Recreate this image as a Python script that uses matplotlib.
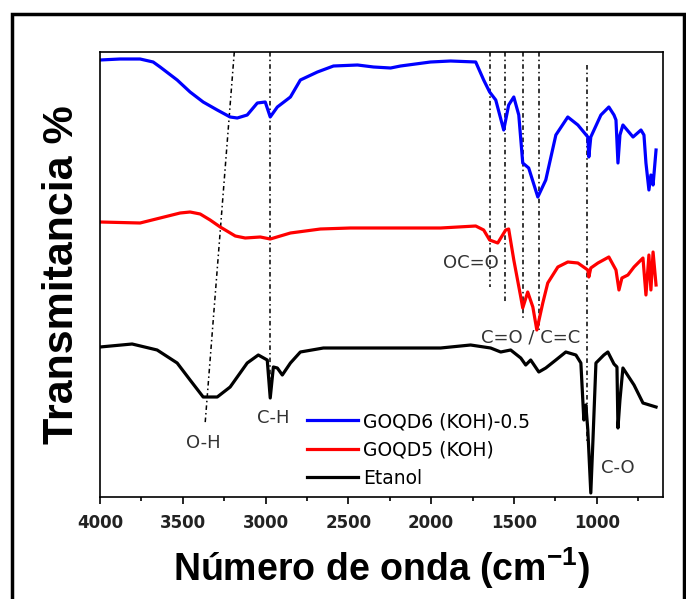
import numpy as np
import matplotlib.pyplot as plt
from matplotlib.patches import Rectangle
from matplotlib.ticker import MultipleLocator

plt.rcParams['mathtext.fontset'] = 'custom'
plt.rcParams['mathtext.rm'] = 'Liberation Sans'
plt.rcParams['mathtext.bf'] = 'Liberation Sans:bold'

# wavenumber (cm-1) and transmittance (arbitrary, offset)
wn_goqd6 = [4000, 3879, 3758, 3679, 3637, 3534, 3456, 3377, 3292, 3214, 3171, 3111,
            3050, 3002, 2972, 2929, 2850, 2790, 2687, 2590, 2445, 2348, 2245, 2185,
            2004, 1883, 1731, 1683, 1647, 1610, 1562, 1532, 1501, 1471, 1447, 1411,
            1356, 1308, 1247, 1175, 1114, 1054, 1048, 1036, 975, 927, 896, 884, 872,
            860, 842, 781, 733, 715, 703, 685, 673, 660, 642]
t_goqd6 = [437, 438, 438, 435, 430, 417, 405, 395, 387, 380, 379, 382,
           394, 395, 380, 390, 400, 417, 425, 431, 432, 430, 429, 431,
           435, 436, 435, 417, 405, 397, 367, 392, 400, 382, 334, 329,
           300, 317, 362, 380, 372, 360, 340, 360, 382, 390, 382, 377, 334,
           362, 372, 360, 367, 362, 334, 307, 322, 312, 347]

wn_goqd5 = [4000, 3758, 3637, 3516, 3456, 3395, 3335, 3274, 3183, 3123, 3032, 2972,
            2850, 2669, 2488, 1943, 1731, 1683, 1647, 1598, 1550, 1532, 1501, 1459,
            1447, 1417, 1386, 1362, 1326, 1296, 1235, 1175, 1114, 1054, 1048, 1036,
            993, 927, 884, 866, 848, 812, 775, 721, 703, 685, 673, 660, 642]
t_goqd5 = [275, 274, 279, 284, 285, 283, 277, 270, 261, 259, 260, 258,
           264, 268, 269, 269, 271, 267, 257, 254, 267, 268, 237, 200,
           189, 205, 190, 167, 194, 214, 230, 235, 234, 227, 220, 229,
           234, 240, 227, 207, 219, 222, 230, 239, 202, 242, 207, 245, 212]

wn_etanol = [4000, 3806, 3655, 3534, 3456, 3377, 3292, 3214, 3111, 3044, 2990, 2972,
             2953, 2929, 2899, 2850, 2790, 2651, 1943, 1762, 1641, 1580, 1520, 1459,
             1429, 1399, 1350, 1308, 1247, 1187, 1126, 1096, 1078, 1066, 1054, 1036,
             1023, 1005, 957, 933, 896, 878, 872, 860, 842, 775, 721, 642]
t_etanol = [150, 153, 147, 134, 117, 100, 100, 110, 134, 142, 137, 99,
            130, 129, 122, 134, 145, 149, 149, 152, 149, 145, 147, 139,
            132, 137, 125, 129, 137, 145, 142, 134, 77, 92, 67, 4,
            57, 134, 142, 145, 133, 130, 69, 97, 129, 112, 94, 90]

# band marker lines: (wn top, wn bottom, y top, y bottom)
band_lines = [(3189, 3365, 445, 74), (2972, 2972, 445, 102), (1647, 1647, 445, 210),
              (1556, 1556, 445, 195), (1447, 1447, 445, 177), (1350, 1350, 445, 167),
              (1060, 1060, 432, 55)]
band_labels = [('OC=O', 1762, 234), ('C=O / C=C', 1399, 159), ('O-H', 3377, 54),
               ('C-H', 2953, 79), ('C-O', 872, 29)]

fig = plt.figure(figsize=(6.86, 5.99), dpi=100)
ax = fig.add_axes([100/686, 1 - 497/599, 563/686, 445/599])

for x0, x1, y0, y1 in band_lines:
    ax.plot([x0, x1], [y0, y1], color='k', lw=1.1, ls=(0, (3, 2, 1, 2)), zorder=1)

p1, = ax.plot(wn_goqd6, t_goqd6, color='#0000ff', lw=2.3, zorder=2)
p2, = ax.plot(wn_goqd5, t_goqd5, color='#ff0000', lw=2.3, zorder=2)
p3, = ax.plot(wn_etanol, t_etanol, color='k', lw=2.3, zorder=2)

for txt, x, y in band_labels:
    ax.text(x, y, txt, ha='center', va='center', fontsize=13, color='#333333',
            family='DejaVu Sans')

ax.set_xlim(4000, 600)
ax.set_ylim(0, 445)
ax.xaxis.set_major_locator(MultipleLocator(500))
ax.xaxis.set_minor_locator(MultipleLocator(250))
ax.set_yticks([])
ax.tick_params(axis='x', which='major', length=5, width=1.2, direction='out',
               labelsize=12, labelcolor='#222222', pad=7)
ax.tick_params(axis='x', which='minor', length=3, width=1.2, direction='out')
for lab in ax.get_xticklabels():
    lab.set_fontweight('bold')
    lab.set_family('DejaVu Sans')
for s in ax.spines.values():
    s.set_linewidth(1.2)

ax.set_xlabel(r'Número de onda (cm$\mathbf{^{-1}}$)', fontsize=27, fontweight='bold',
              family='Liberation Sans', labelpad=10)
ax.set_ylabel('Transmitancia %', fontsize=31, fontweight='bold',
              family='Liberation Sans', labelpad=13)

ax.legend([p1, p2, p3], ['GOQD6 (KOH)-0.5', 'GOQD5 (KOH)', 'Etanol'],
          frameon=False, loc='upper left', bbox_to_anchor=(307/686, 1 - 412/599),
          bbox_transform=fig.transFigure, borderpad=0, borderaxespad=0,
          handlelength=2.7, handletextpad=0.3, labelspacing=0.5,
          prop={'family': 'DejaVu Sans', 'size': 13.5})

fig.patches.append(Rectangle((12/686, -0.02), 672/686, 1 - 14/599 + 0.02,
                             transform=fig.transFigure, fill=False, lw=2.5,
                             edgecolor='k'))

fig.savefig('out.png', dpi=100)
